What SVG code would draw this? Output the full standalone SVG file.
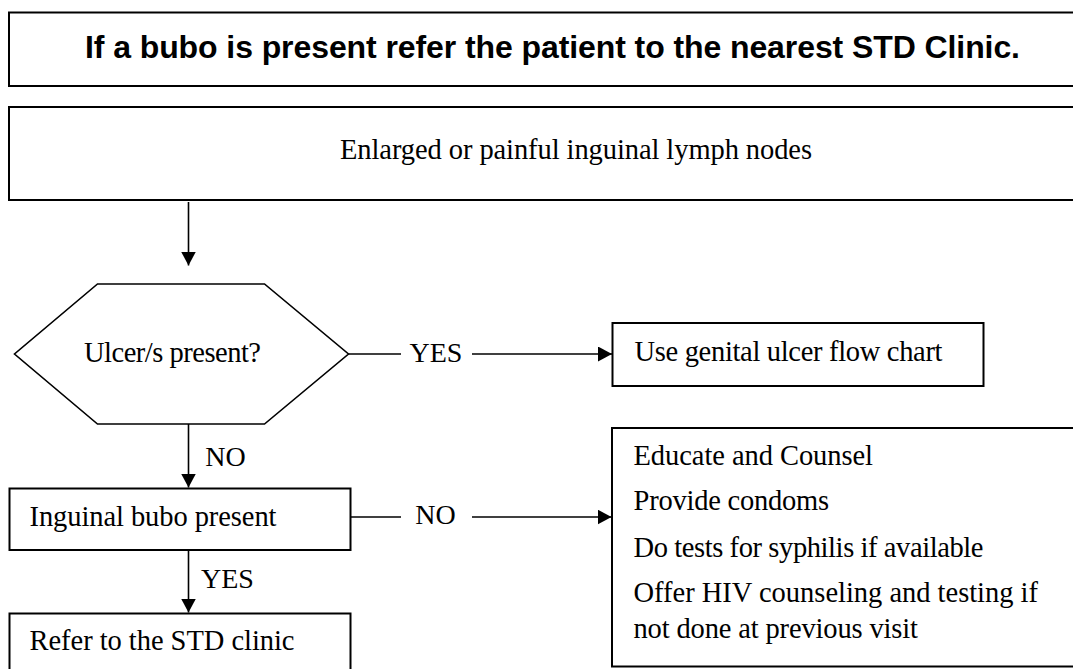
<svg xmlns="http://www.w3.org/2000/svg" width="1073" height="669" viewBox="0 0 1073 669">
  <defs>
    <style>
      .box { fill: #ffffff; stroke: #000000; stroke-width: 2; }
      .hex { fill: #ffffff; stroke: #000000; stroke-width: 1.6; }
      .link { fill: none; stroke: #000000; stroke-width: 1.6; }
      .title { font-family: "Liberation Sans", Arial, sans-serif; font-weight: bold; font-size: 32px; fill: #000000; }
      .txt { font-family: "Liberation Serif", "Times New Roman", serif; font-size: 28.5px; fill: #000000; }
      .lbl { font-family: "Liberation Serif", "Times New Roman", serif; font-size: 28px; fill: #000000; }
    </style>
    <marker id="arrow" markerUnits="userSpaceOnUse" markerWidth="15" markerHeight="15" refX="14" refY="7.5" orient="auto">
      <path d="M0,0 L14,7.5 L0,15 Z" fill="#000000"/>
    </marker>
  </defs>
  <rect width="1073" height="669" fill="#ffffff"/>

  <!-- heading banner -->
  <g id="banner">
    <rect class="box" x="9" y="12.5" width="1080" height="73.5"/>
    <text class="title" x="85" y="58" textLength="935">If a bubo is present refer the patient to the nearest STD Clinic.</text>
  </g>

  <!-- start node -->
  <g id="start">
    <rect class="box" x="9" y="107" width="1080" height="93"/>
    <text class="txt" x="340" y="159" textLength="472">Enlarged or painful inguinal lymph nodes</text>
  </g>

  <!-- decision: ulcers -->
  <g id="ulcer-decision">
    <polygon class="hex" points="97.5,284 264.5,284 348.5,354 264.5,424 97.5,424 14.5,354"/>
    <text class="txt" x="84" y="361.5" textLength="177">Ulcer/s present?</text>
  </g>

  <!-- ulcer flow chart -->
  <g id="ulcer-chart">
    <rect class="box" x="612.5" y="323" width="371" height="63"/>
    <text class="txt" x="634.5" y="361" textLength="308">Use genital ulcer flow chart</text>
  </g>

  <!-- decision: bubo -->
  <g id="bubo-decision">
    <rect class="box" x="9.5" y="488.5" width="341" height="61.5"/>
    <text class="txt" x="29.5" y="526" textLength="247">Inguinal bubo present</text>
  </g>

  <!-- referral -->
  <g id="referral">
    <rect class="box" x="9.5" y="613.5" width="341" height="70"/>
    <text class="txt" x="29.5" y="650" textLength="265">Refer to the STD clinic</text>
  </g>

  <!-- management steps -->
  <g id="management">
    <rect class="box" x="612" y="428" width="480" height="238.5"/>
    <text class="txt" x="633.5" y="465" textLength="239.5">Educate and Counsel</text>
    <text class="txt" x="633.5" y="510" textLength="195.5">Provide condoms</text>
    <text class="txt" x="633.5" y="556.5" textLength="350">Do tests for syphilis if available</text>
    <text class="txt" x="633.5" y="601.5" textLength="404.5">Offer HIV counseling and testing if</text>
    <text class="txt" x="633.5" y="637.5" textLength="284.5">not done at previous visit</text>
  </g>

  <!-- connectors -->
  <g id="connectors">
    <line class="link" x1="188.5" y1="202" x2="188.5" y2="265.5" marker-end="url(#arrow)"/>
    <line class="link" x1="348.5" y1="354" x2="401" y2="354"/>
    <line class="link" x1="472" y1="354" x2="612" y2="354" marker-end="url(#arrow)"/>
    <text class="lbl" x="436" y="361.5" text-anchor="middle">YES</text>
    <line class="link" x1="188.5" y1="424" x2="188.5" y2="487.5" marker-end="url(#arrow)"/>
    <text class="lbl" x="225.5" y="465.5" text-anchor="middle">NO</text>
    <line class="link" x1="350.5" y1="517" x2="401" y2="517"/>
    <line class="link" x1="472" y1="517" x2="611.5" y2="517" marker-end="url(#arrow)"/>
    <text class="lbl" x="435.5" y="524" text-anchor="middle">NO</text>
    <line class="link" x1="188.5" y1="550" x2="188.5" y2="612.5" marker-end="url(#arrow)"/>
    <text class="lbl" x="227.5" y="588" text-anchor="middle">YES</text>
  </g>
</svg>
